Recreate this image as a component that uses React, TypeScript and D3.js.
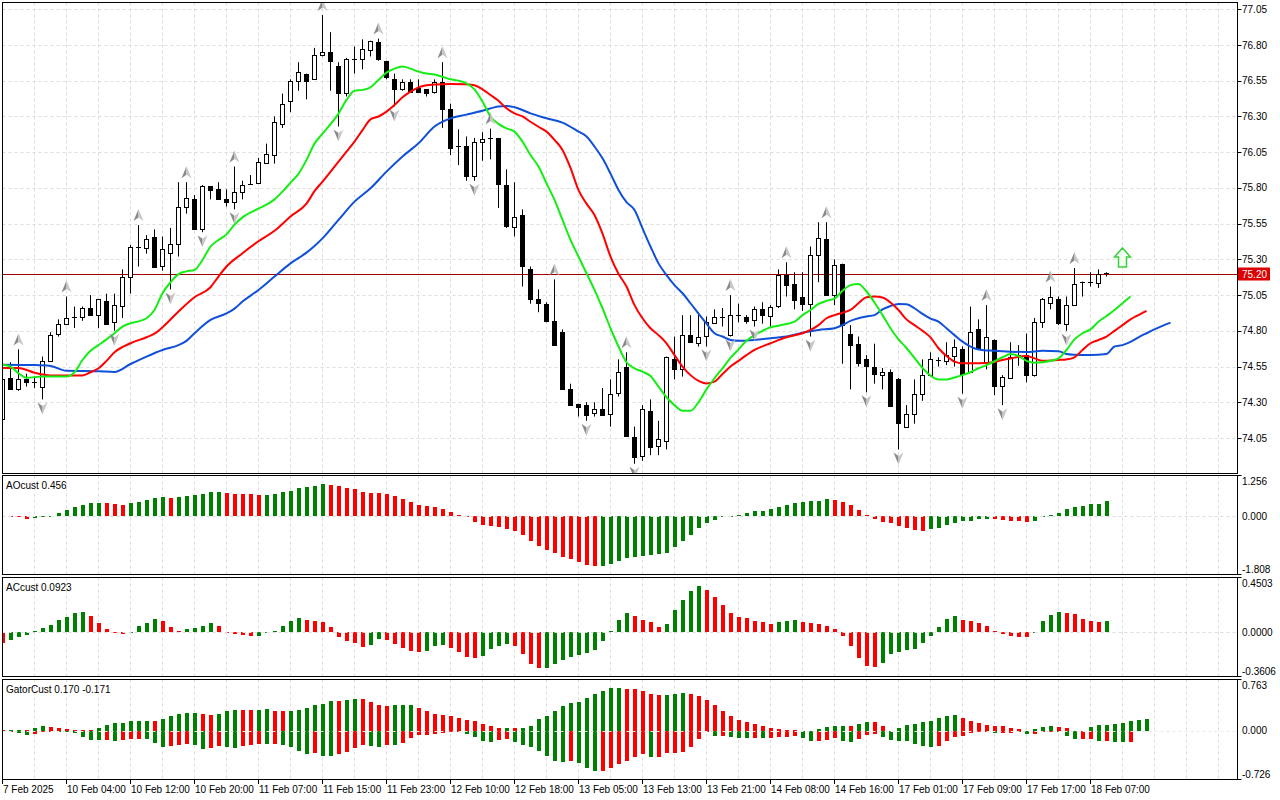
import * as d3 from 'd3';

// ---- price candles (H1), one entry per bar ----
const opens = [
  74.18, 74.47, 74.39, 74.46, 74.44, 74.41, 74.59, 74.78, 74.85, 74.89,
  74.90, 74.96, 74.91, 75.01, 74.86, 74.98, 75.18, 75.39, 75.38, 75.46,
  75.25, 75.35, 75.41, 75.67, 75.72, 75.51, 75.81, 75.79, 75.72, 75.70,
  75.77, 75.82, 75.83, 75.98, 76.03, 76.25, 76.41, 76.55, 76.60, 76.56,
  76.73, 76.75, 76.65, 76.46, 76.70, 76.70, 76.77, 76.82, 76.69, 76.56,
  76.49, 76.54, 76.50, 76.49, 76.47, 76.54, 76.35, 76.09, 76.09, 75.88,
  76.12, 76.15, 76.15, 75.82, 75.53, 75.61, 75.23, 75.02, 74.99, 74.87,
  74.79, 74.39, 74.29, 74.28, 74.22, 74.25, 74.22, 74.36, 74.55, 74.06,
  73.92, 74.24, 73.99, 74.03, 74.60, 74.53, 74.77, 74.72, 74.76, 74.86,
  74.90, 74.77, 74.91, 74.90, 74.87, 74.95, 74.91, 74.97, 75.19, 75.13,
  75.04, 74.99, 75.33, 75.44, 75.05, 75.27, 74.78, 74.71, 74.60, 74.55,
  74.49, 74.51, 74.46, 74.13, 74.22, 74.36, 74.49, 74.59, 74.59, 74.625,
  74.675, 74.51, 74.81, 74.58, 74.735, 74.41, 74.475, 74.63, 74.63, 74.49,
  74.86, 75.00, 75.02, 74.85, 74.98, 75.14, 75.14, 75.14, 75.205,
];
const highs = [
  74.47, 74.58, 74.67, 74.50, 74.48, 74.62, 74.79, 74.88, 75.04, 74.97,
  74.97, 75.05, 75.02, 75.06, 75.06, 75.23, 75.40, 75.54, 75.47, 75.51,
  75.46, 75.52, 75.84, 75.84, 75.75, 75.82, 75.81, 75.84, 75.79, 75.95,
  75.85, 75.89, 76.01, 76.11, 76.30, 76.46, 76.56, 76.68, 76.60, 76.78,
  77.01, 76.89, 76.68, 76.71, 76.79, 76.84, 76.83, 76.845, 76.69, 76.60,
  76.56, 76.56, 76.56, 76.49, 76.56, 76.68, 76.39, 76.21, 76.16, 76.15,
  76.19, 76.215, 76.15, 75.93, 75.84, 75.65, 75.25, 75.09, 75.00, 75.16,
  74.81, 74.43, 74.29, 74.30, 74.30, 74.40, 74.46, 74.60, 74.65, 74.13,
  74.28, 74.32, 74.17, 74.62, 74.76, 74.91, 74.91, 74.93, 74.90, 74.95,
  74.96, 75.05, 74.99, 74.91, 74.97, 75.00, 74.98, 75.23, 75.28, 75.21,
  75.21, 75.39, 75.56, 75.56, 75.30, 75.27, 74.84, 74.76, 74.63, 74.71,
  74.54, 74.53, 74.47, 74.28, 74.46, 74.60, 74.65, 74.615, 74.72, 74.74,
  74.69, 74.97, 74.88, 74.98, 74.74, 74.49, 74.72, 74.70, 74.78, 74.89,
  75.03, 75.11, 75.04, 75.04, 75.24, 75.145, 75.21, 75.23, 75.21,
];
const lows = [
  74.17, 74.39, 74.38, 74.41, 74.40, 74.32, 74.59, 74.76, 74.84, 74.82,
  74.87, 74.91, 74.82, 74.85, 74.80, 74.89, 75.06, 75.25, 75.34, 75.25,
  75.22, 75.09, 75.32, 75.62, 75.51, 75.49, 75.72, 75.72, 75.67, 75.65,
  75.72, 75.82, 75.83, 75.97, 75.97, 76.22, 76.33, 76.48, 76.42, 76.56,
  76.72, 76.48, 76.23, 76.44, 76.60, 76.63, 76.72, 76.69, 76.56, 76.37,
  76.48, 76.47, 76.47, 76.44, 76.46, 76.22, 76.03, 75.96, 75.85, 75.85,
  75.99, 76.00, 75.66, 75.52, 75.46, 75.11, 74.99, 74.93, 74.86, 74.70,
  74.39, 74.28, 74.20, 74.17, 74.20, 74.21, 74.13, 74.34, 74.07, 73.87,
  73.89, 73.93, 73.93, 73.97, 74.46, 74.48, 74.72, 74.69, 74.69, 74.86,
  74.83, 74.76, 74.86, 74.85, 74.83, 74.85, 74.83, 74.96, 75.04, 74.95,
  74.94, 74.76, 75.14, 75.05, 74.98, 74.57, 74.39, 74.55, 74.37, 74.43,
  74.39, 74.27, 73.97, 74.12, 74.15, 74.31, 74.48, 74.55, 74.56, 74.55,
  74.36, 74.51, 74.67, 74.53, 74.35, 74.28, 74.465, 74.555, 74.44, 74.48,
  74.82, 74.95, 74.84, 74.80, 74.975, 75.04, 75.11, 75.10, 75.18,
];
const closes = [
  74.46, 74.39, 74.46, 74.44, 74.43, 74.59, 74.77, 74.85, 74.89, 74.90,
  74.96, 74.91, 75.02, 74.85, 74.98, 75.18, 75.39, 75.385, 75.44, 75.25,
  75.37, 75.41, 75.67, 75.73, 75.51, 75.81, 75.78, 75.72, 75.70, 75.77,
  75.82, 75.83, 75.98, 76.04, 76.26, 76.39, 76.55, 76.61, 76.55, 76.73,
  76.75, 76.69, 76.46, 76.70, 76.705, 76.77, 76.83, 76.70, 76.58, 76.49,
  76.54, 76.47, 76.47, 76.46, 76.54, 76.35, 76.08, 76.085, 75.88, 76.12,
  76.14, 76.145, 75.83, 75.53, 75.60, 75.25, 75.02, 74.99, 74.87, 74.70,
  74.39, 74.28, 74.27, 74.21, 74.25, 74.21, 74.36, 74.51, 74.07, 73.92,
  74.25, 73.99, 74.04, 74.62, 74.53, 74.77, 74.72, 74.76, 74.86, 74.90,
  74.895, 74.91, 74.905, 74.87, 74.95, 74.91, 74.97, 75.19, 75.12, 75.02,
  74.99, 75.33, 75.45, 75.05, 75.26, 74.84, 74.70, 74.58, 74.55, 74.50,
  74.51, 74.27, 74.15, 74.22, 74.36, 74.49, 74.60, 74.595, 74.63, 74.685,
  74.50, 74.79, 74.67, 74.76, 74.41, 74.475, 74.62, 74.625, 74.49, 74.86,
  75.02, 75.04, 74.85, 74.98, 75.13, 75.135, 75.14, 75.20, 75.20,
];

// fractal bars
const fractalUp = [2, 8, 17, 23, 29, 40, 47, 55, 61, 69, 78, 91, 98, 103, 123, 131, 134];
const fractalDown = [5, 14, 21, 25, 29, 42, 49, 59, 73, 79, 88, 91, 94, 101, 108, 112, 120, 125, 133];
const signalBar = 140;
const signalPrice = 75.31;
const bidPrice = 75.2;

// Alligator lines, [bar, price]
const jaw: [number, number][] = [
  [0, 74.563], [4, 74.56], [6, 74.554], [8, 74.52], [12, 74.517], [14, 74.512], [16, 74.568], [18, 74.62],
  [20, 74.666], [22, 74.7], [23, 74.73], [24, 74.783], [26, 74.876], [28, 74.922], [29, 74.955], [30, 75.005],
  [32, 75.086], [34, 75.18], [36, 75.272], [38, 75.347], [39, 75.394], [40, 75.447], [42, 75.576], [44, 75.704],
  [46, 75.797], [48, 75.914], [50, 76.02], [52, 76.112], [54, 76.23], [56, 76.287], [58, 76.313], [60, 76.34],
  [62, 76.37], [63, 76.374], [64, 76.365], [66, 76.322], [68, 76.287], [70, 76.257], [72, 76.194], [73, 76.16],
  [74, 76.09], [75, 76.007], [76, 75.9], [77, 75.786], [78, 75.7], [79, 75.646], [80, 75.517], [81, 75.39],
  [82, 75.272], [83, 75.19], [84, 75.12], [85, 75.063], [86, 74.993], [87, 74.92], [88, 74.85], [89, 74.783],
  [90, 74.76], [91, 74.736], [92, 74.73], [94, 74.736], [96, 74.748], [98, 74.76], [100, 74.787], [102, 74.806],
  [104, 74.818], [105, 74.84], [106, 74.87], [107, 74.888], [108, 74.9], [109, 74.91], [110, 74.95], [111, 74.974],
  [112, 74.988], [113, 74.986], [114, 74.958], [115, 74.918], [116, 74.886], [117, 74.864], [118, 74.818], [119, 74.77],
  [120, 74.724], [121, 74.69], [122, 74.67], [124, 74.66], [126, 74.654], [128, 74.652], [130, 74.66], [132, 74.657],
  [133, 74.638], [134, 74.633], [136, 74.63], [138, 74.638], [139, 74.69], [140, 74.7], [141, 74.722], [142, 74.755],
  [143, 74.783], [144, 74.81], [145, 74.835], [146, 74.857],
];
const teeth: [number, number][] = [
  [0, 74.54], [2, 74.54], [4, 74.507], [6, 74.488], [8, 74.488], [10, 74.488], [11, 74.51], [12, 74.538],
  [13, 74.59], [14, 74.65], [16, 74.713], [18, 74.755], [19, 74.78], [20, 74.825], [22, 74.935], [24, 75.035],
  [26, 75.105], [27, 75.18], [28, 75.25], [30, 75.343], [32, 75.427], [34, 75.5], [36, 75.6], [38, 75.69],
  [39, 75.777], [40, 75.844], [42, 75.984], [43, 76.054], [44, 76.124], [45, 76.205], [46, 76.28], [47, 76.3],
  [48, 76.334], [49, 76.38], [50, 76.434], [51, 76.474], [52, 76.504], [53, 76.518], [54, 76.523], [56, 76.528],
  [58, 76.525], [59, 76.518], [60, 76.49], [61, 76.45], [62, 76.41], [63, 76.357], [64, 76.322], [65, 76.3],
  [66, 76.263], [67, 76.228], [68, 76.194], [69, 76.136], [70, 76.066], [71, 75.94], [72, 75.785], [73, 75.69],
  [74, 75.61], [75, 75.48], [76, 75.32], [77, 75.2], [78, 75.11], [79, 74.98], [80, 74.888], [81, 74.818],
  [82, 74.77], [83, 74.713], [84, 74.63], [85, 74.55], [86, 74.49], [87, 74.45], [88, 74.432], [89, 74.444],
  [90, 74.498], [91, 74.55], [92, 74.59], [93, 74.63], [94, 74.666], [96, 74.713], [98, 74.755], [100, 74.783],
  [101, 74.806], [102, 74.84], [103, 74.888], [104, 74.91], [105, 74.927], [106, 74.946], [107, 74.993], [108, 75.035],
  [109, 75.04], [110, 75.033], [111, 74.998], [112, 74.946], [113, 74.88], [114, 74.84], [115, 74.8], [116, 74.754],
  [117, 74.678], [118, 74.624], [119, 74.584], [120, 74.573], [122, 74.573], [124, 74.582], [125, 74.596], [126, 74.607],
  [128, 74.624], [129, 74.607], [130, 74.59], [132, 74.596], [133, 74.6], [134, 74.615], [135, 74.666], [136, 74.713],
  [137, 74.736], [138, 74.76], [139, 74.8], [140, 74.84], [141, 74.88], [142, 74.91], [143, 74.94],
];
const lips: [number, number][] = [
  [0, 74.563], [1, 74.55], [2, 74.503], [3, 74.472], [5, 74.48], [8, 74.48], [9, 74.51], [10, 74.596],
  [11, 74.66], [12, 74.7], [13, 74.74], [14, 74.783], [15, 74.83], [16, 74.853], [17, 74.866], [18, 74.888],
  [19, 74.946], [20, 75.063], [21, 75.14], [22, 75.197], [23, 75.216], [24, 75.226], [25, 75.296], [26, 75.39],
  [27, 75.436], [28, 75.475], [29, 75.543], [30, 75.594], [32, 75.655], [33, 75.683], [34, 75.72], [35, 75.774],
  [36, 75.837], [37, 75.898], [38, 75.996], [39, 76.11], [40, 76.18], [42, 76.32], [43, 76.416], [44, 76.48],
  [45, 76.486], [46, 76.504], [47, 76.556], [48, 76.607], [49, 76.635], [50, 76.65], [51, 76.635], [52, 76.614],
  [53, 76.6], [54, 76.593], [55, 76.578], [56, 76.56], [57, 76.55], [58, 76.532], [59, 76.49], [60, 76.404],
  [61, 76.3], [62, 76.248], [63, 76.217], [64, 76.194], [65, 76.124], [66, 76.03], [67, 75.95], [68, 75.832],
  [69, 75.716], [70, 75.576], [71, 75.436], [72, 75.32], [73, 75.203], [74, 75.086], [75, 74.958], [76, 74.818],
  [77, 74.69], [78, 74.58], [79, 74.538], [80, 74.515], [81, 74.484], [82, 74.41], [83, 74.335], [84, 74.28],
  [85, 74.24], [86, 74.24], [87, 74.3], [88, 74.39], [89, 74.468], [90, 74.538], [91, 74.61], [92, 74.67],
  [93, 74.73], [94, 74.77], [95, 74.8], [96, 74.825], [97, 74.836], [98, 74.848], [99, 74.864], [100, 74.91],
  [101, 74.946], [102, 74.988], [103, 75.01], [104, 75.025], [105, 75.08], [106, 75.12], [107, 75.128], [108, 75.075],
  [109, 74.998], [110, 74.91], [111, 74.818], [112, 74.74], [113, 74.68], [114, 74.61], [115, 74.54], [116, 74.487],
  [117, 74.46], [118, 74.46], [119, 74.474], [120, 74.49], [121, 74.51], [122, 74.538], [123, 74.56], [124, 74.587],
  [125, 74.615], [126, 74.638], [127, 74.624], [128, 74.59], [129, 74.577], [130, 74.58], [131, 74.59], [132, 74.607],
  [133, 74.666], [134, 74.74], [135, 74.783], [136, 74.81], [137, 74.864], [138, 74.904], [139, 74.946], [140, 74.993],
  [141, 75.04],
];

// ---- oscillators ----
const aoValues = [
  -0.02, -0.03, -0.04, -0.09, -0.05, -0.02, 0.01, 0.09, 0.175, 0.28,
  0.34, 0.39, 0.4, 0.39, 0.36, 0.355, 0.4, 0.45, 0.485, 0.55,
  0.58, 0.575, 0.59, 0.62, 0.65, 0.68, 0.73, 0.735, 0.7, 0.695,
  0.69, 0.67, 0.64, 0.66, 0.67, 0.73, 0.79, 0.88, 0.91, 0.94,
  0.98, 0.97, 0.92, 0.88, 0.83, 0.76, 0.71, 0.705, 0.67, 0.61,
  0.52, 0.45, 0.35, 0.3, 0.27, 0.22, 0.12, 0.03, -0.04, -0.19,
  -0.29, -0.31, -0.34, -0.41, -0.46, -0.6, -0.77, -0.93, -1.05, -1.15,
  -1.27, -1.33, -1.42, -1.5, -1.55, -1.54, -1.49, -1.39, -1.3, -1.27,
  -1.24, -1.21, -1.18, -1.14, -0.96, -0.77, -0.6, -0.37, -0.22, -0.12,
  -0.04, -0.02, 0.04, 0.1, 0.145, 0.165, 0.21, 0.27, 0.33, 0.39,
  0.43, 0.46, 0.475, 0.52, 0.485, 0.45, 0.33, 0.19, 0.02, -0.08,
  -0.19, -0.21, -0.31, -0.37, -0.43, -0.46, -0.41, -0.36, -0.27, -0.21,
  -0.165, -0.145, -0.1, -0.08, -0.09, -0.12, -0.145, -0.15, -0.19, -0.145,
  -0.02, 0.04, 0.1, 0.21, 0.27, 0.31, 0.36, 0.38, 0.456,
];
const acValues = [
  -0.087, -0.06, -0.04, -0.02, 0.016, 0.04, 0.065, 0.1, 0.13, 0.16,
  0.165, 0.137, 0.08, 0.027, -0.005, -0.01, 0.0, 0.05, 0.08, 0.11,
  0.09, 0.045, 0.016, 0.027, 0.033, 0.052, 0.08, 0.055, -0.005, -0.01,
  -0.018, -0.03, -0.025, -0.003, 0.014, 0.052, 0.09, 0.117, 0.106, 0.09,
  0.085, 0.041, -0.035, -0.068, -0.085, -0.12, -0.1, -0.057, -0.063, -0.096,
  -0.128, -0.153, -0.161, -0.15, -0.112, -0.104, -0.128, -0.161, -0.197, -0.21,
  -0.194, -0.134, -0.107, -0.096, -0.112, -0.177, -0.26, -0.292, -0.29, -0.26,
  -0.227, -0.2, -0.188, -0.167, -0.145, -0.071, 0.014, 0.1, 0.16, 0.134,
  0.1, 0.085, 0.041, 0.066, 0.183, 0.27, 0.336, 0.377, 0.344, 0.287,
  0.221, 0.156, 0.123, 0.115, 0.09, 0.082, 0.068, 0.085, 0.098, 0.099,
  0.082, 0.074, 0.066, 0.049, 0.027, -0.03, -0.112, -0.21, -0.276, -0.284,
  -0.251, -0.177, -0.161, -0.145, -0.134, -0.087, -0.03, 0.041, 0.112, 0.137,
  0.104, 0.09, 0.074, 0.055, 0.016, -0.014, -0.025, -0.035, -0.038, -0.003,
  0.09, 0.145, 0.164, 0.156, 0.155, 0.112, 0.09, 0.085, 0.0923,
];
const gatorUpper = [
  0.005, 0.012, 0.018, 0.012, 0.043, 0.072, 0.062, 0.043, 0.033, 0.012,
  0.006, 0.004, 0.04, 0.092, 0.112, 0.122, 0.142, 0.145, 0.146, 0.142,
  0.178, 0.226, 0.251, 0.261, 0.271, 0.251, 0.236, 0.255, 0.3, 0.316,
  0.315, 0.314, 0.316, 0.317, 0.3, 0.3, 0.301, 0.316, 0.345, 0.38,
  0.405, 0.45, 0.449, 0.465, 0.48, 0.479, 0.435, 0.385, 0.37, 0.385,
  0.386, 0.387, 0.34, 0.295, 0.255, 0.235, 0.22, 0.197, 0.167, 0.143,
  0.102, 0.077, 0.043, 0.044, 0.042, 0.043, 0.077, 0.172, 0.226, 0.3,
  0.375, 0.42, 0.435, 0.49, 0.54, 0.595, 0.63, 0.631, 0.62, 0.615,
  0.585, 0.54, 0.525, 0.535, 0.54, 0.555, 0.54, 0.52, 0.464, 0.39,
  0.3, 0.226, 0.162, 0.132, 0.1, 0.077, 0.043, 0.028, 0.018, 0.008,
  0.003, 0.001, 0.028, 0.063, 0.077, 0.078, 0.077, 0.1, 0.137, 0.136,
  0.077, 0.003, 0.043, 0.087, 0.102, 0.137, 0.138, 0.19, 0.226, 0.227,
  0.19, 0.152, 0.117, 0.087, 0.078, 0.077, 0.043, 0.028, 0.003, 0.028,
  0.063, 0.078, 0.062, 0.043, 0.003, 0.002, 0.063, 0.087, 0.0875, 0.107,
  0.122, 0.15, 0.165, 0.17,
];
const gatorLower = [
  -0.005, -0.004, -0.037, -0.062, -0.047, -0.01, -0.005, -0.008, -0.012, -0.027,
  -0.097, -0.136, -0.138, -0.136, -0.156, -0.136, -0.12, -0.119, -0.127, -0.186,
  -0.235, -0.226, -0.206, -0.19, -0.215, -0.275, -0.255, -0.226, -0.24, -0.25,
  -0.23, -0.21, -0.2, -0.201, -0.2, -0.21, -0.245, -0.295, -0.345, -0.335,
  -0.37, -0.38, -0.345, -0.31, -0.255, -0.21, -0.22, -0.245, -0.21, -0.211,
  -0.18, -0.106, -0.07, -0.06, -0.05, -0.027, -0.022, -0.012, -0.052, -0.096,
  -0.156, -0.171, -0.136, -0.126, -0.161, -0.205, -0.245, -0.3, -0.37, -0.445,
  -0.46, -0.445, -0.48, -0.56, -0.595, -0.594, -0.55, -0.5, -0.445, -0.385,
  -0.34, -0.395, -0.394, -0.335, -0.33, -0.32, -0.245, -0.13, -0.022, -0.071,
  -0.071, -0.096, -0.106, -0.111, -0.111, -0.112, -0.111, -0.096, -0.095, -0.081,
  -0.111, -0.156, -0.146, -0.131, -0.111, -0.156, -0.171, -0.121, -0.057, -0.047,
  -0.096, -0.131, -0.146, -0.156, -0.196, -0.23, -0.245, -0.22, -0.156, -0.096,
  -0.071, -0.037, -0.022, -0.021, -0.037, -0.036, -0.035, -0.012, -0.047, -0.046,
  -0.012, -0.002, -0.012, -0.071, -0.121, -0.12, -0.119, -0.156, -0.155, -0.168,
  -0.175, -0.171,
];

// ---- axis labels ----
const priceTicks = [77.05, 76.8, 76.55, 76.3, 76.05, 75.8, 75.55, 75.3, 75.05, 74.8, 74.55, 74.3, 74.05];
const timeBars = [0, 8, 16, 24, 32, 40, 48, 56, 64, 72, 80, 88, 96, 104, 112, 120, 128, 136];
const timeLabels = [
  '7 Feb 2025', '10 Feb 04:00', '10 Feb 12:00', '10 Feb 20:00', '11 Feb 07:00', '11 Feb 15:00',
  '11 Feb 23:00', '12 Feb 10:00', '12 Feb 18:00', '13 Feb 05:00', '13 Feb 13:00', '13 Feb 21:00',
  '14 Feb 08:00', '14 Feb 16:00', '17 Feb 01:00', '17 Feb 09:00', '17 Feb 17:00', '18 Feb 07:00',
];
const aoRange = [-1.808, 1.256];
const acRange = [-0.3606, 0.4503];
const gatorRange = [-0.726, 0.763];

const FONT = '"Liberation Sans", Arial, sans-serif';
const GREEN = '#008000';
const RED = '#ff0000';
const GRID = '#dcdcdc';

const L = 2.5;
const R = 1237.5;
const panels = {
  main: [2.5, 473.5],
  ao: [475.5, 574.5],
  ac: [577.5, 676.5],
  gator: [679.5, 779.5],
};

function Arrow({ cx, cy, up }: { cx: number; cy: number; up: boolean }) {
  const s = up ? 1 : -1;
  const tip = cy - 7 * s;
  const base = cy + 5 * s;
  const notch = cy + 1.5 * s;
  return (
    <g>
      <polygon points={`${cx},${tip} ${cx},${notch} ${cx - 5},${base}`} fill="#8a8a8a" />
      <polygon points={`${cx},${tip} ${cx + 5},${base} ${cx},${notch}`} fill="#c8c8c8" />
    </g>
  );
}

export default function App() {
  const x = d3.scaleLinear().domain([0, 154]).range([2, 1234]);
  const cx = (k: number) => x(k) + 0.5;
  const y = d3.scaleLinear().domain([74.05, 77.05]).range([438, 9.3]);
  const yAo = d3.scaleLinear().domain(aoRange).range([panels.ao[1], panels.ao[0]]);
  const yAc = d3.scaleLinear().domain(acRange).range([panels.ac[1], panels.ac[0]]);
  const yGt = d3.scaleLinear().domain(gatorRange).range([panels.gator[1], panels.gator[0]]);

  const line = d3
    .line<[number, number]>()
    .x((d) => cx(d[0]))
    .y((d) => y(d[1]))
    .curve(d3.curveMonotoneX);

  const gridBars = d3.range(4, 154, 4);
  const crisp = (v: number) => Math.round(v) + 0.5;

  // histogram helper: colour by rising/falling value
  const hist = (vals: number[], ys: d3.ScaleLinear<number, number>, mag = false) =>
    vals.map((v, i) => {
      const prev = i > 0 ? vals[i - 1] : v;
      const rising = mag ? Math.abs(v) > Math.abs(prev) : v > prev;
      const y0 = ys(0);
      const y1 = ys(v);
      const top = Math.min(y0, y1);
      const h = Math.max(Math.abs(y1 - y0), 1);
      return (
        <rect key={i} x={x(i) - 1} y={top} width={4} height={h} fill={rising ? GREEN : RED} shapeRendering="crispEdges" />
      );
    });

  const zeroLine = (ys: d3.ScaleLinear<number, number>) => (
    <line x1={L} x2={R} y1={crisp(ys(0))} y2={crisp(ys(0))} stroke={GRID} strokeDasharray="3,3" />
  );

  const vGrid = (top: number, bottom: number) =>
    gridBars.map((k) => (
      <line key={k} x1={cx(k)} x2={cx(k)} y1={top} y2={bottom} stroke={GRID} strokeDasharray="3,3" />
    ));

  const bidY = crisp(y(bidPrice));
  const sx = cx(signalBar);
  const sy = y(signalPrice);

  return (
    <svg
      width={1280}
      height={800}
      style={{ position: 'absolute', left: 0, top: 0, background: '#fff' }}
      fontFamily={FONT}
      fontSize={10}
    >
      <defs>
        {Object.entries(panels).map(([k, [t, b]]) => (
          <clipPath id={`clip-${k}`} key={k}>
            <rect x={L + 0.5} y={t + 0.5} width={R - L - 1} height={b - t - 1} />
          </clipPath>
        ))}
      </defs>
      <rect width={1280} height={800} fill="#fff" />

      {/* main panel */}
      <g clipPath="url(#clip-main)">
        {vGrid(panels.main[0], panels.main[1])}
        {priceTicks.map((p) => (
          <line key={p} x1={L} x2={R} y1={crisp(y(p))} y2={crisp(y(p))} stroke={GRID} strokeDasharray="3,3" />
        ))}
        <line x1={L} x2={R} y1={bidY} y2={bidY} stroke="#a00000" />
        {opens.map((o, i) => {
          const c = closes[i];
          const bull = c >= o;
          const xc = cx(i);
          const top = y(Math.max(o, c));
          const bot = y(Math.min(o, c));
          return (
            <g key={i}>
              <line x1={xc} x2={xc} y1={y(highs[i])} y2={y(lows[i])} stroke="#000" />
              {bot - top < 1.5 ? (
                <line x1={xc - 2.5} x2={xc + 2.5} y1={crisp(top)} y2={crisp(top)} stroke="#000" />
              ) : (
                <rect
                  x={xc - 2}
                  y={crisp(top)}
                  width={4}
                  height={Math.round(bot - top)}
                  fill={bull ? '#fff' : '#000'}
                  stroke="#000"
                />
              )}
            </g>
          );
        })}
        <path d={line(jaw) ?? ''} fill="none" stroke="#1050d8" strokeWidth={2} />
        <path d={line(teeth) ?? ''} fill="none" stroke="#ff0000" strokeWidth={2} />
        <path d={line(lips) ?? ''} fill="none" stroke="#14ee14" strokeWidth={2} />
        {fractalUp.map((k) => (
          <Arrow key={`u${k}`} cx={cx(k)} cy={y(highs[k]) - 9} up />
        ))}
        {fractalDown.map((k) => (
          <Arrow key={`d${k}`} cx={cx(k)} cy={y(lows[k]) + 8} up={false} />
        ))}
        <path
          d={`M${sx},${sy - 10} L${sx + 8},${sy - 1} L${sx + 4},${sy - 1} L${sx + 4},${sy + 9} L${sx - 4},${sy + 9} L${sx - 4},${sy - 1} L${sx - 8},${sy - 1} Z`}
          fill="#f4fff4"
          stroke="#3ccf3c"
          strokeWidth={1.5}
        />
      </g>

      {/* AO */}
      <g clipPath="url(#clip-ao)">
        {vGrid(panels.ao[0], panels.ao[1])}
        {hist(aoValues, yAo)}
        {zeroLine(yAo)}
      </g>
      {/* AC */}
      <g clipPath="url(#clip-ac)">
        {vGrid(panels.ac[0], panels.ac[1])}
        {hist(acValues, yAc)}
        {zeroLine(yAc)}
      </g>
      {/* Gator */}
      <g clipPath="url(#clip-gator)">
        {vGrid(panels.gator[0], panels.gator[1])}
        {hist(gatorUpper, yGt)}
        {hist(gatorLower, yGt, true)}
        <line x1={L} x2={R} y1={crisp(yGt(0))} y2={crisp(yGt(0))} stroke="#e8e8e8" strokeDasharray="3,3" />
      </g>

      {/* frames */}
      {Object.entries(panels).map(([k, [t, b]]) => (
        <rect key={k} x={L} y={t} width={R - L} height={b - t} fill="none" stroke="#000" />
      ))}

      {/* price axis */}
      {priceTicks.map((p) => (
        <g key={p}>
          <line x1={R} x2={R + 4} y1={crisp(y(p))} y2={crisp(y(p))} stroke="#000" />
          <text x={1242} y={y(p)} dy="0.35em" fill="#000">
            {p.toFixed(2)}
          </text>
        </g>
      ))}
      <rect x={1238} y={bidY - 7} width={32} height={13} fill="#dd0000" />
      <text x={1242} y={bidY} dy="0.35em" fill="#fff">
        {bidPrice.toFixed(2)}
      </text>

      {/* oscillator axes */}
      {[
        { ys: yAo, r: aoRange, d: 3, p: panels.ao, label: `AOcust ${aoValues[aoValues.length - 1]}` },
        { ys: yAc, r: acRange, d: 4, p: panels.ac, label: `ACcust ${acValues[acValues.length - 1]}` },
        {
          ys: yGt,
          r: gatorRange,
          d: 3,
          p: panels.gator,
          label: `GatorCust ${gatorUpper[gatorUpper.length - 1].toFixed(3)} ${gatorLower[gatorLower.length - 1].toFixed(3)}`,
        },
      ].map(({ ys, r, d, p, label }, i) => (
        <g key={i}>
          <text x={6} y={p[0] + 13} fill="#000">
            {label}
          </text>
          <line x1={R} x2={R + 4} y1={p[0]} y2={p[0]} stroke="#000" />
          <line x1={R} x2={R + 4} y1={p[1]} y2={p[1]} stroke="#000" />
          <text x={1242} y={p[0] + 9} fill="#000">
            {r[1].toFixed(d)}
          </text>
          <text x={1242} y={ys(0)} dy="0.35em" fill="#000">
            {(0).toFixed(d)}
          </text>
          <text x={1242} y={p[1] - 2} fill="#000">
            {r[0].toFixed(d)}
          </text>
        </g>
      ))}

      {/* time axis */}
      {timeBars.map((k, i) => (
        <g key={k}>
          <line x1={cx(k)} x2={cx(k)} y1={779.5} y2={784} stroke="#000" />
          <text x={cx(k) + 0.5} y={793} fill="#000">
            {timeLabels[i]}
          </text>
        </g>
      ))}
    </svg>
  );
}
